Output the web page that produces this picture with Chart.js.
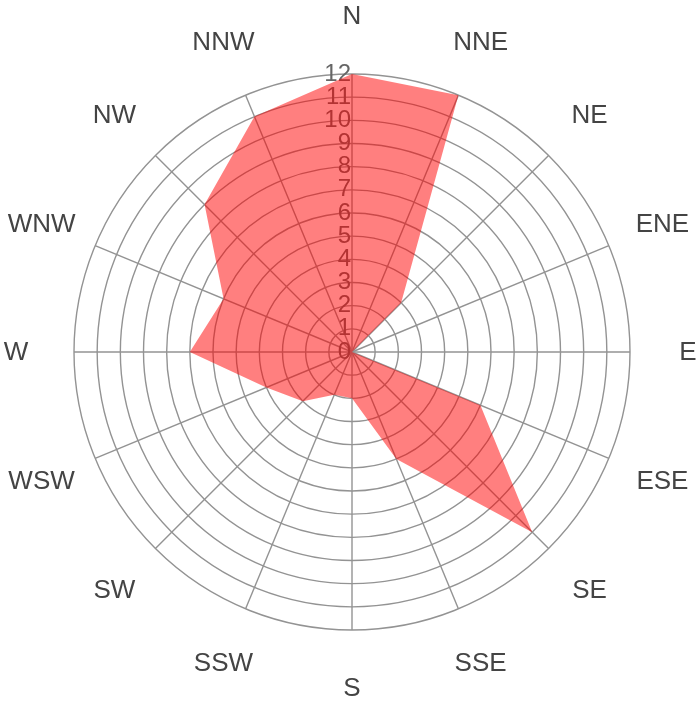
<!DOCTYPE html>
<html>
<head>
<meta charset="utf-8">
<style>
  html, body { margin: 0; padding: 0; background: #fff; }
  #wrap { width: 700px; height: 705px; }
</style>
<script src="https://cdn.jsdelivr.net/npm/chart.js@4/dist/chart.umd.min.js"></script>
</head>
<body>
<div id="wrap"><canvas id="c" width="700" height="705"></canvas></div>
<script>
const directions = ['N','NNE','NE','ENE','E','ESE','SE','SSE','S','SSW','SW','WSW','W','WNW','NW','NNW'];
const frequencies = [12, 12, 3, 0, 0, 6, 11, 5, 2, 2, 3, 4, 7, 6, 9, 11];
const tickMin = 0;
const tickMax = 12;
const tickStep = 1;

const FONT = 'Liberation Sans, Arial, sans-serif';

// Tick labels (including 0), right-aligned against the vertical axis, drawn under the fill
const tickLabelPlugin = {
  id: 'tickLabels',
  beforeDatasetsDraw(chart) {
    const s = chart.scales.r;
    const ctx = chart.ctx;
    ctx.save();
    ctx.font = '24px ' + FONT;
    ctx.fillStyle = '#666';
    ctx.textAlign = 'right';
    ctx.textBaseline = 'middle';
    s.ticks.forEach(t => {
      const d = s.getDistanceFromCenterForValue(t.value);
      ctx.fillText(String(t.value), s.xCenter - 1, s.yCenter - d);
    });
    ctx.restore();
  }
};

// Direction labels centred on their spokes
const pointLabelPlugin = {
  id: 'dirLabels',
  afterDraw(chart) {
    const s = chart.scales.r;
    const ctx = chart.ctx;
    ctx.save();
    ctx.font = '26px ' + FONT;
    ctx.fillStyle = '#444';
    ctx.textAlign = 'center';
    ctx.textBaseline = 'middle';
    directions.forEach((lab, i) => {
      const p = s.getPointPosition(i, s.drawingArea + 58);
      ctx.fillText(lab, p.x, p.y + 1);
    });
    ctx.restore();
  }
};

new Chart(document.getElementById('c'), {
  type: 'radar',
  data: {
    labels: directions,
    datasets: [{
      data: frequencies,
      backgroundColor: 'rgba(255,0,0,0.5)',
      borderWidth: 0,
      pointRadius: 0,
      pointHoverRadius: 0
    }]
  },
  options: {
    responsive: false,
    animation: false,
    plugins: { legend: { display: false }, tooltip: { enabled: false } },
    layout: { padding: { left: 74, right: 70, top: 74, bottom: 75 } },
    scales: {
      r: {
        min: tickMin,
        max: tickMax,
        ticks: { stepSize: tickStep, display: false },
        grid: { circular: true, color: '#939393', lineWidth: 1.4 },
        angleLines: { color: '#939393', lineWidth: 1.4 },
        pointLabels: { display: false }
      }
    }
  },
  plugins: [tickLabelPlugin, pointLabelPlugin]
});
</script>
</body>
</html>
